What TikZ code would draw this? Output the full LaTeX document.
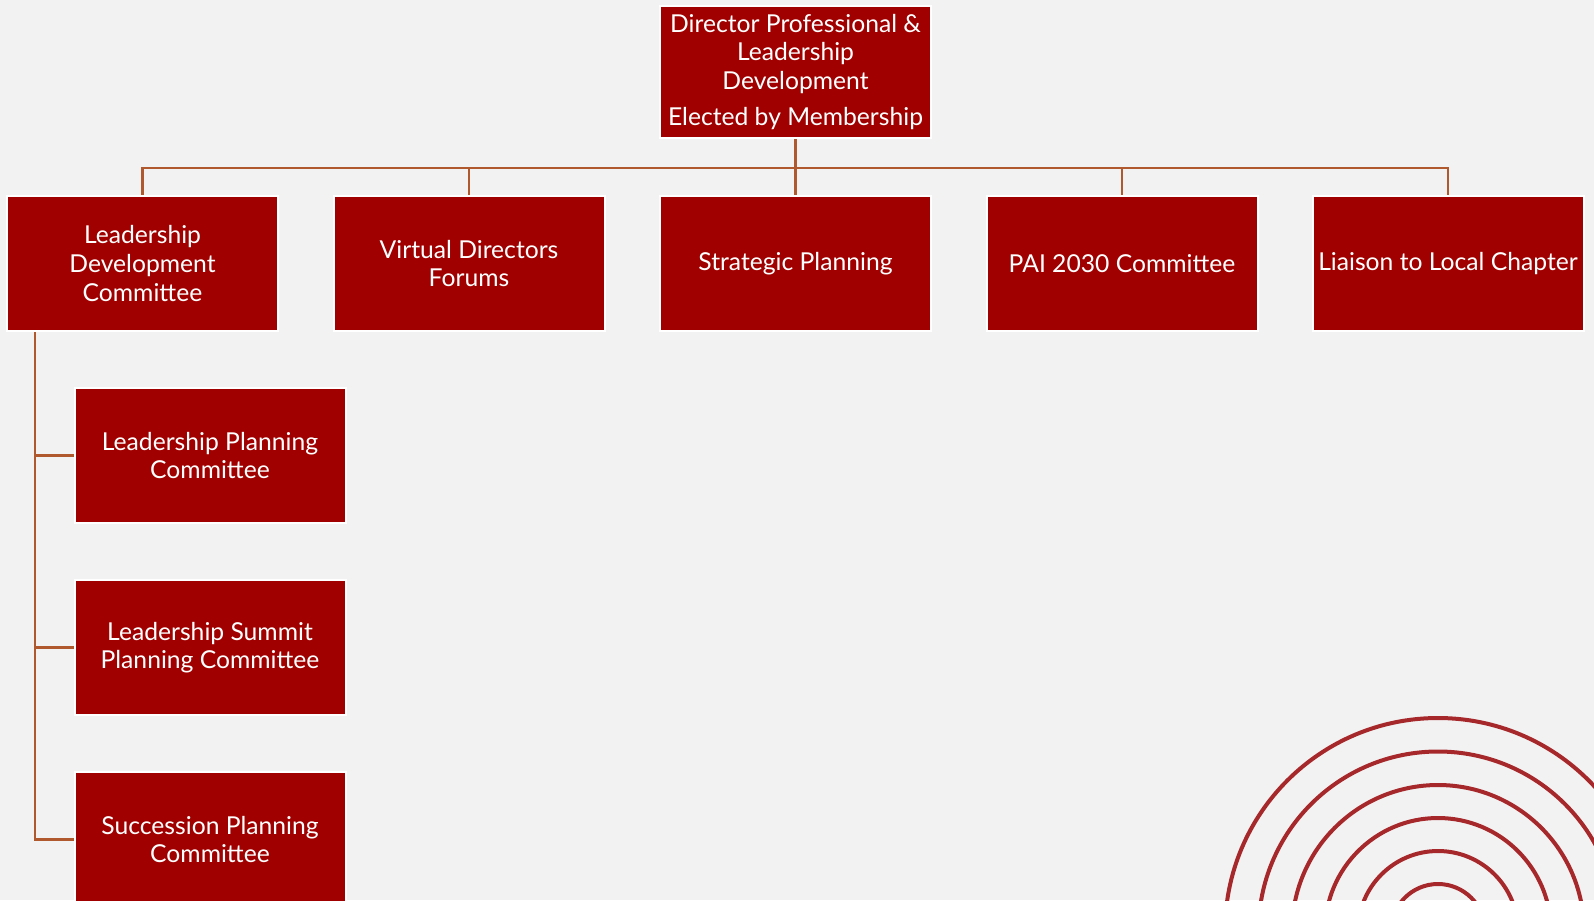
\documentclass[tikz,border=0pt]{standalone}
\usepackage{fontspec}
\setmainfont{Lato}
\definecolor{bg}{HTML}{F2F2F2}
\definecolor{boxred}{HTML}{A00000}
\definecolor{conncol}{HTML}{B0582E}
\definecolor{ringcol}{HTML}{A6282B}
\begin{document}
\begin{tikzpicture}[x=0.75pt,y=-0.75pt,
  box/.style={draw=white, line width=1.5pt, fill=boxred, text=white, inner sep=0pt,
    minimum width=203.25pt, minimum height=101.5pt, align=center,
    font=\fontsize{18.5}{21.4}\selectfont},
  conn/.style={draw=conncol, line width=2.2pt},
  ring/.style={draw=ringcol, line width=3pt}]
\useasboundingbox (0,0) rectangle (1594,900);
\fill[bg] (0,0) rectangle (1594,900);
\begin{scope}
\clip (0,0) rectangle (1594,900);
\foreach \r in {213,179.5,146,113,80,47}
  \draw[ring] (1438,931) circle[radius=\r];
\end{scope}
% top
\node[box, minimum height=99pt] (top) at (795.5,72) {Director Professional \&\\Leadership\\Development\\[6pt]Elected by Membership};
% row
\node[box] (ldc) at (142.5,263.5) {Leadership\\Development\\Committee};
\node[box] (vdf) at (469,263.5) {Virtual Directors\\Forums};
\node[box] (sp) at (795.5,263.5) {Strategic Planning};
\node[box] (pai) at (1122,263.5) {PAI 2030 Committee};
\node[box] (llc) at (1448,263.5) {Liaison to Local Chapter};
% children
\node[box] (lpc) at (210,455.5) {Leadership Planning\\Committee};
\node[box] (lsp) at (210,647.5) {Leadership Summit\\Planning Committee};
\node[box] (spc) at (210,839.5) {Succession Planning\\Committee};
% connectors
\coordinate (bus) at (0,168);
\coordinate (vx) at (35,0);
\foreach \c in {ldc,vdf,sp,pai,llc}
  \draw[conn] (top.south) -- (top.south |- bus) -| (\c.north);
\foreach \c in {lpc,lsp,spc}
  \draw[conn] (ldc.south -| vx) |- (\c.west);
\end{tikzpicture}
\end{document}
